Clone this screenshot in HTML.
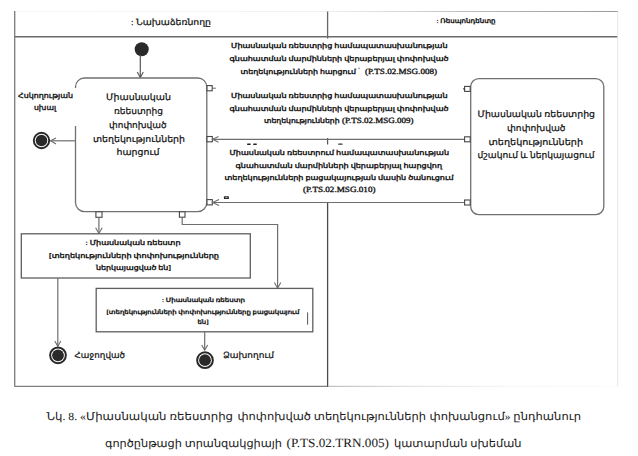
<!DOCTYPE html>
<html><head><meta charset="utf-8"><style>
html,body{margin:0;padding:0;background:#fff;}
svg{display:block;}
text{font-family:"Liberation Serif",serif;fill:#111;stroke:#111;stroke-width:0.22px;text-rendering:geometricPrecision;}
.b{stroke-width:0.35px;}
.L{stroke-width:0.32px;}
.c{fill:#1a1a1a;stroke:#1a1a1a;stroke-width:0.05px;}
.fb text{stroke-width:0.06px;}
.fb .b{stroke-width:0.18px;}
.fb .L{stroke-width:0.32px;}
</style></head><body>
<svg width="638" height="456" viewBox="0 0 638 456">
<defs>
<linearGradient id="gTop" x1="15" y1="0" x2="618" y2="0" gradientUnits="userSpaceOnUse">
<stop offset="0" stop-color="#f8f8f8"/><stop offset="0.5" stop-color="#f2f2f2"/><stop offset="0.64" stop-color="#d8d8d8"/><stop offset="0.77" stop-color="#b8b8b8"/><stop offset="1" stop-color="#999"/>
</linearGradient>
<linearGradient id="gBot" x1="327" y1="0" x2="618" y2="0" gradientUnits="userSpaceOnUse">
<stop offset="0" stop-color="#c0c0c0"/><stop offset="0.3" stop-color="#e4e4e4"/><stop offset="0.62" stop-color="#f6f6f6"/><stop offset="1" stop-color="#fdfdfd"/>
</linearGradient>
</defs>
<rect width="638" height="456" fill="#fff"/>

<!-- swimlane frame -->
<line x1="15" y1="11.5" x2="618" y2="11.5" stroke="url(#gTop)" stroke-width="1.2"/>
<line x1="14.7" y1="11" x2="14.7" y2="386.8" stroke="#7a7a7a" stroke-width="1.3"/>
<line x1="15" y1="36.8" x2="618" y2="36.8" stroke="#6a6a6a" stroke-width="1.6"/>
<line x1="15" y1="386.3" x2="328" y2="386.3" stroke="#808080" stroke-width="1.2"/>
<line x1="328" y1="386.3" x2="618" y2="386.3" stroke="url(#gBot)" stroke-width="1.2"/>
<line x1="617.7" y1="11.5" x2="617.7" y2="386.3" stroke="#e6e6e6" stroke-width="1"/>
<line x1="327.6" y1="11.5" x2="327.6" y2="38.6" stroke="#666" stroke-width="1.3"/>
<line x1="327.6" y1="138" x2="327.6" y2="144.5" stroke="#555" stroke-width="1.2"/>
<line x1="327.6" y1="202" x2="327.6" y2="386.5" stroke="#4a4a4a" stroke-width="1.3"/>


<!-- initial node -->
<circle cx="141.7" cy="49.3" r="7" fill="#2a2a2a"/>
<line x1="140.3" y1="55" x2="140.3" y2="77.3" stroke="#555" stroke-width="1.2"/>
<polyline points="137.3,72 140.3,77.5 143.3,72" fill="none" stroke="#555" stroke-width="1.1"/>

<!-- main action box -->
<rect x="75.5" y="78" width="131.3" height="133.6" rx="9" ry="9" fill="#fff" stroke="#707070" stroke-width="1.3"/>
<rect x="73" y="88" width="5" height="38" fill="#fff"/>

<!-- control error label + final -->
<line x1="75.5" y1="140.8" x2="50.6" y2="140.8" stroke="#6e6e6e" stroke-width="1.2"/>
<polyline points="56,137.9 50.5,140.8 56,143.9" fill="none" stroke="#6e6e6e" stroke-width="1.1"/>
<circle cx="41.5" cy="140.5" r="7.7" fill="none" stroke="#282828" stroke-width="1.9"/>
<circle cx="41.5" cy="140.5" r="5.8" fill="#2a2a2a"/>

<!-- pins right side of main box -->
<rect x="207" y="85.6" width="5.2" height="5.2" fill="#fff" stroke="#474747" stroke-width="1.1"/>
<line x1="212.2" y1="88.2" x2="215.8" y2="88.2" stroke="#666" stroke-width="1"/>
<rect x="207" y="136.5" width="5.3" height="5.3" fill="#fff" stroke="#474747" stroke-width="1.1"/>
<rect x="207" y="199.6" width="5.3" height="5.3" fill="#fff" stroke="#474747" stroke-width="1.1"/>

<!-- message arrows -->
<line x1="212.5" y1="139.3" x2="464.6" y2="139.3" stroke="#6e6e6e" stroke-width="1.2"/>
<polyline points="218.5,136.4 212.6,139.3 218.5,142.2" fill="none" stroke="#6e6e6e" stroke-width="1.1"/>
<line x1="212.5" y1="202.5" x2="464.6" y2="202.5" stroke="#6e6e6e" stroke-width="1.2"/>
<polyline points="219,199.4 212.6,202.5 219,205.6" fill="none" stroke="#6e6e6e" stroke-width="1.1"/>

<!-- message labels -->
<rect x="358.6" y="67.6" width="0.9" height="1.6" fill="#555"/>
<rect x="247" y="143.6" width="3.8" height="1.3" rx="0.6" fill="#222"/>
<rect x="253.1" y="143.6" width="3.8" height="1.3" rx="0.6" fill="#222"/>
<rect x="338.2" y="143.5" width="4.4" height="1.2" rx="0.5" fill="#333"/>
<rect x="223.9" y="196.3" width="5" height="2.6" rx="0.5" fill="#2a2a2a"/><rect x="225.4" y="197.1" width="2" height="0.9" fill="#bbb"/>

<!-- right box -->
<rect x="470.7" y="78.7" width="133.1" height="135.9" rx="8" ry="8" fill="#fff" stroke="#707070" stroke-width="1.3"/>
<rect x="464.6" y="86.4" width="5.6" height="5" fill="#fff" stroke="#474747" stroke-width="1.1"/>
<circle cx="464" cy="88.9" r="0.8" fill="#333"/>
<rect x="464.6" y="136.8" width="5.6" height="5" fill="#fff" stroke="#474747" stroke-width="1.1"/>
<rect x="464.6" y="200" width="5.6" height="5" fill="#fff" stroke="#474747" stroke-width="1.1"/>

<!-- bottom pins of main box -->
<rect x="95.9" y="211.8" width="6.1" height="5.5" fill="#fff" stroke="#474747" stroke-width="1.1"/>
<line x1="98.9" y1="217.3" x2="98.9" y2="233.4" stroke="#6e6e6e" stroke-width="1.2"/>
<polyline points="95.6,227.8 98.9,233.5 102.2,227.8" fill="none" stroke="#6e6e6e" stroke-width="1.1"/>
<rect x="179.4" y="211.8" width="5.6" height="5.4" fill="#fff" stroke="#474747" stroke-width="1.1"/>
<polyline points="182.2,217.2 182.2,224.5 277.6,224.5 277.6,288" fill="none" stroke="#6e6e6e" stroke-width="1.2"/>
<polyline points="274.4,282.4 277.6,288.2 280.8,282.4" fill="none" stroke="#6e6e6e" stroke-width="1.1"/>

<!-- object node 1 -->
<rect x="21.3" y="233.8" width="229" height="44.2" fill="#fff" stroke="#5e5e5e" stroke-width="1.3"/>

<!-- object node 2 -->
<rect x="96.2" y="288.4" width="216.6" height="43.4" fill="#fff" stroke="#5e5e5e" stroke-width="1.3"/>
<line x1="307.6" y1="312.4" x2="307.6" y2="324.7" stroke="#444" stroke-width="0.9"/>

<!-- finals -->
<line x1="57.8" y1="278" x2="57.8" y2="346" stroke="#6e6e6e" stroke-width="1.2"/>
<polyline points="54.8,341 57.8,346.3 60.8,341" fill="none" stroke="#6e6e6e" stroke-width="1.1"/>
<circle cx="58" cy="355.3" r="7.85" fill="none" stroke="#282828" stroke-width="2"/>
<circle cx="58" cy="355.3" r="5.9" fill="#2a2a2a"/>

<line x1="204.7" y1="331.8" x2="204.7" y2="350" stroke="#6e6e6e" stroke-width="1.2"/>
<polyline points="201.7,345 204.7,350.2 207.7,345" fill="none" stroke="#6e6e6e" stroke-width="1.1"/>
<circle cx="205" cy="360.2" r="7.85" fill="none" stroke="#282828" stroke-width="2"/>
<circle cx="205" cy="360.2" r="5.9" fill="#2a2a2a"/>

<text x="131.00" y="24.8" font-size="8.6" textLength="80.00" lengthAdjust="spacingAndGlyphs">: Նախաձեռնողը</text>
<text class="b" x="436.50" y="22.7" font-size="6.5" textLength="59.00" lengthAdjust="spacingAndGlyphs">: Ռեսպոնդենտը</text>
<text x="106.00" y="99.8" font-size="8.8" textLength="65.00" lengthAdjust="spacingAndGlyphs">Միասնական</text>
<text x="114.00" y="113.7" font-size="8.8" textLength="49.00" lengthAdjust="spacingAndGlyphs">ռեեստրից</text>
<text x="109.00" y="127.9" font-size="8.8" textLength="57.50" lengthAdjust="spacingAndGlyphs">փոփոխված</text>
<text x="93.00" y="141.5" font-size="8.8" textLength="92.00" lengthAdjust="spacingAndGlyphs">տեղեկությունների</text>
<text x="116.50" y="155.3" font-size="8.8" textLength="43.00" lengthAdjust="spacingAndGlyphs">հարցում</text>
<text class="b" x="18.00" y="98.3" font-size="7.3" textLength="55.00" lengthAdjust="spacingAndGlyphs">Հսկողության</text>
<text class="b" x="34.00" y="110.4" font-size="7.3" textLength="22.00" lengthAdjust="spacingAndGlyphs">սխալ</text>
<text class="b" x="231.00" y="48.3" font-size="6.8" textLength="216.50" lengthAdjust="spacingAndGlyphs">Միասնական ռեեստրից համապատասխանության</text>
<text class="b" x="229.50" y="61.25" font-size="6.8" textLength="219.00" lengthAdjust="spacingAndGlyphs">գնահատման մարմինների վերաբերյալ փոփոխված</text>
<text class="b" x="240.50" y="73.75" font-size="6.8" textLength="115.50" lengthAdjust="spacingAndGlyphs">տեղեկությունների հարցում</text>
<text class="L" x="365.00" y="73.9" font-size="7.9" textLength="72.00" lengthAdjust="spacingAndGlyphs">(P.TS.02.MSG.008)</text>
<text class="b" x="231.00" y="97.5" font-size="6.8" textLength="216.50" lengthAdjust="spacingAndGlyphs">Միասնական ռեեստրից համապատասխանության</text>
<text class="b" x="229.50" y="110.5" font-size="6.8" textLength="219.00" lengthAdjust="spacingAndGlyphs">գնահատման մարմինների վերաբերյալ փոփոխված</text>
<text class="b" x="264.00" y="122.7" font-size="6.8" textLength="75.50" lengthAdjust="spacingAndGlyphs">տեղեկությունների</text>
<text class="L" x="342.00" y="122.7" font-size="7.9" textLength="71.50" lengthAdjust="spacingAndGlyphs">(P.TS.02.MSG.009)</text>
<text class="b" x="229.50" y="154.6" font-size="6.8" textLength="219.50" lengthAdjust="spacingAndGlyphs">Միասնական ռեեստրում համապատասխանության</text>
<text class="b" x="235.50" y="167.6" font-size="6.8" textLength="206.50" lengthAdjust="spacingAndGlyphs">գնահատման մարմինների վերաբերյալ հարցվող</text>
<text class="b" x="224.50" y="180.0" font-size="6.8" textLength="229.00" lengthAdjust="spacingAndGlyphs">տեղեկությունների բացակայության մասին ծանուցում</text>
<text class="L" x="303.00" y="191.7" font-size="7.9" textLength="72.50" lengthAdjust="spacingAndGlyphs">(P.TS.02.MSG.010)</text>
<text x="477.50" y="117.2" font-size="8.8" textLength="117.50" lengthAdjust="spacingAndGlyphs">Միասնական ռեեստրից</text>
<text x="507.00" y="131.0" font-size="8.8" textLength="58.50" lengthAdjust="spacingAndGlyphs">փոփոխված</text>
<text x="488.50" y="145.0" font-size="8.8" textLength="94.50" lengthAdjust="spacingAndGlyphs">տեղեկությունների</text>
<text x="477.50" y="158.1" font-size="8.8" textLength="117.00" lengthAdjust="spacingAndGlyphs">մշակում և ներկայացում</text>
<text class="b" x="85.50" y="244.75" font-size="6.8" textLength="95.00" lengthAdjust="spacingAndGlyphs">: Միասնական ռեեստր</text>
<text class="b" x="49.00" y="257.8" font-size="6.8" textLength="170.00" lengthAdjust="spacingAndGlyphs">[տեղեկությունների փոփոխությունները</text>
<text class="b" x="96.00" y="269.5" font-size="6.8" textLength="75.00" lengthAdjust="spacingAndGlyphs">ներկայացված են]</text>
<text class="b" x="162.00" y="301.9" font-size="6.0" textLength="83.00" lengthAdjust="spacingAndGlyphs">: Միասնական ռեեստր</text>
<text class="b" x="106.50" y="313.8" font-size="6.0" textLength="193.00" lengthAdjust="spacingAndGlyphs">[տեղեկությունների փոփոխությունները բացակայում</text>
<text class="b" x="197.50" y="323.7" font-size="6.0" textLength="11.00" lengthAdjust="spacingAndGlyphs">են]</text>
<text x="74.50" y="357.7" font-size="8.5" textLength="50.50" lengthAdjust="spacingAndGlyphs">Հաջողված</text>
<text x="223.00" y="357.7" font-size="8.5" textLength="51.00" lengthAdjust="spacingAndGlyphs">Ձախողում</text>
<text class="c" x="46.50" y="419.6" font-size="10.8" textLength="186.50" lengthAdjust="spacingAndGlyphs">Նկ. 8. «Միասնական ռեեստրից</text>
<text class="c" x="237.50" y="419.6" font-size="10.8" textLength="188.50" lengthAdjust="spacingAndGlyphs">փոփոխված տեղեկությունների</text>
<text class="c" x="429.50" y="419.6" font-size="10.8" textLength="151.50" lengthAdjust="spacingAndGlyphs">փոխանցում» ընդհանուր</text>
<text class="c" x="105.00" y="446.6" font-size="10.8" textLength="177.00" lengthAdjust="spacingAndGlyphs">գործընթացի տրանզակցիայի</text>
<text class="c" x="286.50" y="446.6" font-size="12.6" textLength="102.50" lengthAdjust="spacingAndGlyphs">(P.TS.02.TRN.005)</text>
<text class="c" x="394.00" y="446.6" font-size="10.8" textLength="127.50" lengthAdjust="spacingAndGlyphs">կատարման սխեման</text>
</svg>
<script>
(function(){
try{
var c=document.createElement('canvas');c.width=120;c.height=40;var g=c.getContext('2d');
g.font='30px "Liberation Serif", serif';g.fillStyle='#000';g.fillText('\u0544\u056B\u0561\u057D',4,30);
var d=g.getImageData(0,0,120,40).data,n=0;for(var i=3;i<d.length;i+=4){if(d[i]>0){n++;}}
if(n>20)return;
var m={'\u0561':'w','\u0562':'\u00fe','\u0563':'q','\u0564':'n','\u0565':'t','\u0566':'q','\u0567':'t','\u0568':'p','\u0569':'\u00fe','\u056A':'d','\u056B':'h','\u056C':'l','\u056D':'h','\u056E':'\u03b4','\u056F':'k','\u0570':'h','\u0571':'a','\u0572':'\u03b7','\u0573':'\u03b4','\u0574':'u','\u0575':'j','\u0576':'u','\u0577':'z','\u0578':'n','\u0579':'z','\u057A':'w','\u057B':'g','\u057C':'n','\u057D':'u','\u057E':'y','\u057F':'w','\u0580':'\u03b7','\u0581':'g','\u0582':'\u0131','\u0583':'\u03c8','\u0584':'p','\u0585':'o','\u0586':'\u03c6','\u0587':'u','\u0544':'U','\u0546':'L','\u0540':'Z','\u0541':'Q','\u054C':'N'};
document.body.className='fb';var ts=document.getElementsByTagName('text');
for(var k=0;k<ts.length;k++){var e=ts[k],s=e.textContent,o='',hit=false;
for(var j=0;j<s.length;j++){var ch=s.charAt(j);if(m[ch]){o+=m[ch];hit=true;}else if(ch>='\u0530'&&ch<='\u058F'){o+='u';hit=true;}else{o+=ch;}}
if(hit){e.textContent=o;var fs=parseFloat(e.getAttribute('font-size'));if(fs){e.setAttribute('font-size',(fs*1.12).toFixed(2));}}}
}catch(err){}
})();
</script>
</body></html>
